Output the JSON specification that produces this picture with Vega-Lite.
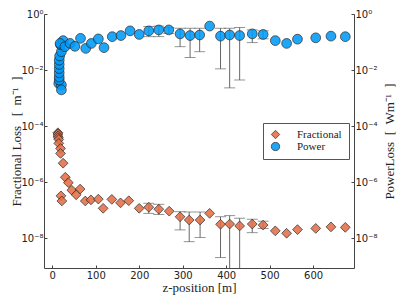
{
  "$schema": "https://vega.github.io/schema/vega-lite/v6.json",
  "width": 310,
  "height": 254,
  "autosize": "none",
  "padding": {"left": 44, "top": 14, "right": 45, "bottom": 31},
  "background": "white",
  "config": {
    "view": {"stroke": null},
    "axis": {
      "grid": false,
      "labelFont": "DejaVu Sans",
      "labelFontSize": 10,
      "labelColor": "#222",
      "domainColor": "#444",
      "tickColor": "#444",
      "titleFont": "Liberation Serif",
      "titleFontSize": 13,
      "titleFontWeight": "normal",
      "titleColor": "#222"
    },
    "legend": {
      "labelFont": "Liberation Serif",
      "labelFontSize": 11,
      "labelColor": "#222",
      "padding": 7,
      "rowPadding": 0,
      "clipHeight": 9,
      "symbolSize": 70,
      "symbolStrokeColor": "#222",
      "symbolStrokeWidth": 0.8,
      "symbolOpacity": 0.88,
      "labelOffset": 16
    }
  },
  "data": {
    "values": [
      {"z": 15, "s": "Power", "v": 0.0033},
      {"z": 21, "s": "Power", "v": 0.0029},
      {"z": 21, "s": "Power", "v": 0.00195},
      {"z": 16, "s": "Power", "v": 0.0044},
      {"z": 16, "s": "Power", "v": 0.0056},
      {"z": 16, "s": "Power", "v": 0.0079},
      {"z": 16, "s": "Power", "v": 0.0112},
      {"z": 16, "s": "Power", "v": 0.0158},
      {"z": 16, "s": "Power", "v": 0.0224},
      {"z": 17, "s": "Power", "v": 0.0316},
      {"z": 21, "s": "Power", "v": 0.045},
      {"z": 19, "s": "Power", "v": 0.079},
      {"z": 25, "s": "Power", "v": 0.112},
      {"z": 18, "s": "Power", "v": 0.089},
      {"z": 29, "s": "Power", "v": 0.068},
      {"z": 41, "s": "Power", "v": 0.089},
      {"z": 52, "s": "Power", "v": 0.07},
      {"z": 65, "s": "Power", "v": 0.135},
      {"z": 77, "s": "Power", "v": 0.059},
      {"z": 90, "s": "Power", "v": 0.089},
      {"z": 106, "s": "Power", "v": 0.129},
      {"z": 119, "s": "Power", "v": 0.063},
      {"z": 138, "s": "Power", "v": 0.155},
      {"z": 158, "s": "Power", "v": 0.17},
      {"z": 179, "s": "Power", "v": 0.25},
      {"z": 200, "s": "Power", "v": 0.186},
      {"z": 222, "s": "Power", "v": 0.25, "lo": 0.155, "hi": 0.355},
      {"z": 245, "s": "Power", "v": 0.27, "lo": 0.155, "hi": 0.37},
      {"z": 268, "s": "Power", "v": 0.27, "lo": 0.2, "hi": 0.33},
      {"z": 294, "s": "Power", "v": 0.195, "lo": 0.068, "hi": 0.31},
      {"z": 317, "s": "Power", "v": 0.17, "lo": 0.028, "hi": 0.31},
      {"z": 339, "s": "Power", "v": 0.178, "lo": 0.045, "hi": 0.31},
      {"z": 362, "s": "Power", "v": 0.37},
      {"z": 387, "s": "Power", "v": 0.162, "lo": 0.011, "hi": 0.31},
      {"z": 408, "s": "Power", "v": 0.178, "lo": 0.0023, "hi": 0.31},
      {"z": 431, "s": "Power", "v": 0.17, "lo": 0.0044, "hi": 0.33},
      {"z": 460, "s": "Power", "v": 0.195, "lo": 0.095, "hi": 0.27},
      {"z": 485, "s": "Power", "v": 0.186, "lo": 0.13, "hi": 0.25},
      {"z": 513, "s": "Power", "v": 0.112},
      {"z": 539, "s": "Power", "v": 0.089},
      {"z": 564, "s": "Power", "v": 0.126},
      {"z": 606, "s": "Power", "v": 0.141},
      {"z": 641, "s": "Power", "v": 0.162},
      {"z": 674, "s": "Power", "v": 0.155},
      {"z": 13, "s": "Fractional", "v": 0.0000575},
      {"z": 13, "s": "Fractional", "v": 0.000052},
      {"z": 13, "s": "Fractional", "v": 0.0000437},
      {"z": 14, "s": "Fractional", "v": 0.000038},
      {"z": 15, "s": "Fractional", "v": 0.0000331},
      {"z": 15, "s": "Fractional", "v": 0.000024},
      {"z": 19, "s": "Fractional", "v": 0.0000158},
      {"z": 19, "s": "Fractional", "v": 0.0000105},
      {"z": 25, "s": "Fractional", "v": 0.0000047},
      {"z": 30, "s": "Fractional", "v": 0.00000148},
      {"z": 37, "s": "Fractional", "v": 0.00000095},
      {"z": 45, "s": "Fractional", "v": 0.00000051},
      {"z": 64, "s": "Fractional", "v": 0.00000056},
      {"z": 55, "s": "Fractional", "v": 0.00000035},
      {"z": 20, "s": "Fractional", "v": 0.00000032},
      {"z": 22, "s": "Fractional", "v": 0.00000021},
      {"z": 76, "s": "Fractional", "v": 0.00000021},
      {"z": 89, "s": "Fractional", "v": 0.00000023},
      {"z": 106, "s": "Fractional", "v": 0.000000245},
      {"z": 117, "s": "Fractional", "v": 0.000000115},
      {"z": 137, "s": "Fractional", "v": 0.00000024},
      {"z": 157, "s": "Fractional", "v": 0.00000018},
      {"z": 176, "s": "Fractional", "v": 0.000000215},
      {"z": 200, "s": "Fractional", "v": 0.000000115},
      {"z": 222, "s": "Fractional", "v": 0.000000126, "lo": 0.000000076, "hi": 0.000000174},
      {"z": 245, "s": "Fractional", "v": 0.000000107, "lo": 0.000000069, "hi": 0.00000016},
      {"z": 269, "s": "Fractional", "v": 0.000000091},
      {"z": 294, "s": "Fractional", "v": 0.0000000575, "lo": 0.0000000195, "hi": 0.000000087},
      {"z": 315, "s": "Fractional", "v": 0.000000044, "lo": 0.0000000074, "hi": 0.000000085},
      {"z": 340, "s": "Fractional", "v": 0.000000044, "lo": 0.0000000105, "hi": 0.000000085},
      {"z": 362, "s": "Fractional", "v": 0.000000076},
      {"z": 387, "s": "Fractional", "v": 0.000000031, "lo": 0.000000002, "hi": 0.0000000575},
      {"z": 408, "s": "Fractional", "v": 0.0000000316, "lo": 0.0000000001, "hi": 0.000000063},
      {"z": 431, "s": "Fractional", "v": 0.000000027, "lo": 0.0000000001, "hi": 0.000000051},
      {"z": 460, "s": "Fractional", "v": 0.0000000316, "lo": 0.0000000155, "hi": 0.000000047},
      {"z": 485, "s": "Fractional", "v": 0.000000029, "lo": 0.000000022, "hi": 0.00000004},
      {"z": 513, "s": "Fractional", "v": 0.000000018},
      {"z": 539, "s": "Fractional", "v": 0.0000000148},
      {"z": 564, "s": "Fractional", "v": 0.00000002},
      {"z": 606, "s": "Fractional", "v": 0.000000022},
      {"z": 641, "s": "Fractional", "v": 0.000000025},
      {"z": 674, "s": "Fractional", "v": 0.000000024}
    ]
  },
  "encoding": {
    "x": {
      "field": "z",
      "type": "quantitative",
      "scale": {"domain": [-19, 694], "nice": false, "zero": false},
      "axis": {
        "title": "z-position [m]",
        "values": [0, 100, 200, 300, 400, 500, 600],
        "tickSize": -3,
        "labelPadding": 5,
        "titlePadding": 1
      }
    }
  },
  "resolve": {"axis": {"y": "independent"}},
  "layer": [
    {
      "transform": [{"filter": "isValid(datum.lo)"}],
      "mark": {"type": "rule", "color": "#555", "strokeWidth": 0.9, "clip": true},
      "encoding": {
        "y": {
          "field": "lo",
          "type": "quantitative",
          "scale": {"type": "log", "domain": [8.5e-10, 1], "nice": false},
          "axis": {
            "title": "Fractional Loss \u2002[\u2002m⁻¹\u2002]",
            "orient": "left",
            "values": [1, 0.01, 0.0001, 0.000001, 0.00000001],
            "labelExpr": "datum.value > 0.1 ? '10⁰' : datum.value > 0.001 ? '10⁻²' : datum.value > 0.00001 ? '10⁻⁴' : datum.value > 0.0000001 ? '10⁻⁶' : '10⁻⁸'",
            "tickSize": -3,
            "labelPadding": 4,
            "titlePadding": -3
          }
        },
        "y2": {"field": "hi"}
      }
    },
    {
      "transform": [{"filter": "isValid(datum.lo)"}],
      "mark": {"type": "tick", "orient": "horizontal", "color": "#555", "size": 11, "thickness": 0.9, "clip": true},
      "encoding": {
        "y": {"field": "lo", "type": "quantitative", "scale": {"type": "log", "domain": [8.5e-10, 1], "nice": false}, "axis": null}
      }
    },
    {
      "transform": [{"filter": "isValid(datum.lo)"}],
      "mark": {"type": "tick", "orient": "horizontal", "color": "#555", "size": 11, "thickness": 0.9, "clip": true},
      "encoding": {
        "y": {"field": "hi", "type": "quantitative", "scale": {"type": "log", "domain": [8.5e-10, 1], "nice": false}, "axis": null}
      }
    },
    {
      "mark": {"type": "point", "filled": true, "size": 95, "opacity": 0.88, "stroke": "#222", "strokeWidth": 0.8},
      "encoding": {
        "y": {
          "field": "v",
          "type": "quantitative",
          "scale": {"type": "log", "domain": [8.5e-10, 1], "nice": false},
          "axis": {
            "title": "PowerLoss\u2002[\u2002Wm⁻¹\u2002]",
            "orient": "right",
            "titleAngle": -90,
            "values": [1, 0.01, 0.0001, 0.000001, 0.00000001],
            "labelExpr": "datum.value > 0.1 ? '10⁰' : datum.value > 0.001 ? '10⁻²' : datum.value > 0.00001 ? '10⁻⁴' : datum.value > 0.0000001 ? '10⁻⁶' : '10⁻⁸'",
            "tickSize": -3,
            "labelPadding": 4,
            "titlePadding": 19
          }
        },
        "color": {
          "field": "s",
          "type": "nominal",
          "scale": {"domain": ["Fractional", "Power"], "range": ["#e36f47", "#009af9"]},
          "legend": {
            "title": null,
            "orient": "none",
            "legendX": 219,
            "legendY": 109,
            "encode": {
              "legend": {
                "update": {
                  "stroke": {"value": "#555"},
                  "strokeWidth": {"value": 1},
                  "fill": {"value": "white"}
                }
              }
            }
          }
        },
        "shape": {
          "field": "s",
          "type": "nominal",
          "scale": {"domain": ["Fractional", "Power"], "range": ["diamond", "circle"]},
          "legend": {
            "title": null,
            "orient": "none",
            "legendX": 219,
            "legendY": 109,
            "encode": {
              "legend": {
                "update": {
                  "stroke": {"value": "#555"},
                  "strokeWidth": {"value": 1},
                  "fill": {"value": "white"}
                }
              }
            }
          }
        }
      }
    }
  ]
}
